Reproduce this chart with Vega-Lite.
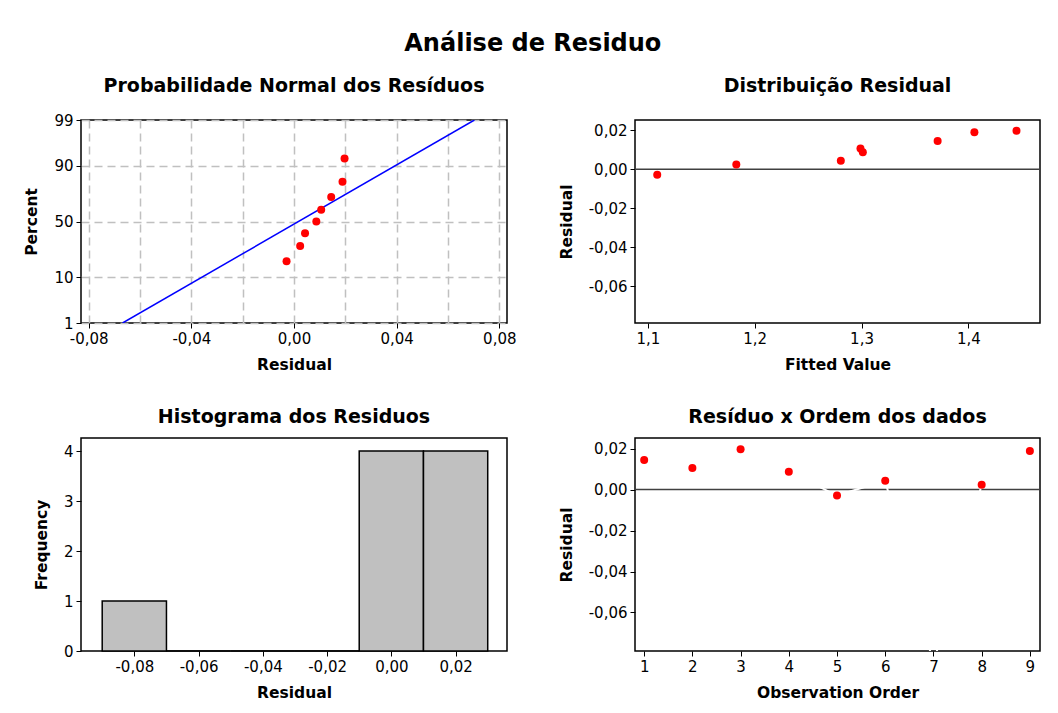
{
  "$schema": "https://vega.github.io/schema/vega-lite/v6.json",
  "background": "white",
  "padding": {"left": 24, "top": 32, "right": 10, "bottom": 5},
  "title": {"text": "Análise de Residuo", "fontSize": 24, "font": "DejaVu Sans", "fontWeight": "bold", "anchor": "middle", "color": "#000000", "offset": 20},
  "datasets": {
    "obs": [
      {"obs": 1, "fitted": 1.3712, "residual": 0.0145, "percent": 71.3},
      {"obs": 2, "fitted": 1.2990, "residual": 0.0106, "percent": 60.6},
      {"obs": 3, "fitted": 1.4450, "residual": 0.0197, "percent": 92.6},
      {"obs": 4, "fitted": 1.3012, "residual": 0.0087, "percent": 50.0},
      {"obs": 5, "fitted": 1.1088, "residual": -0.0029, "percent": 18.1},
      {"obs": 6, "fitted": 1.2806, "residual": 0.0043, "percent": 39.4},
      {"obs": 7, "fitted": 1.2500, "residual": -0.0850, "percent": 7.4},
      {"obs": 8, "fitted": 1.1828, "residual": 0.0024, "percent": 28.7},
      {"obs": 9, "fitted": 1.4056, "residual": 0.0189, "percent": 81.9}
    ],
    "fitline": [
      {"residual": -0.0668, "percent": 1},
      {"residual": 0.0703, "percent": 99}
    ],
    "hist": [
      {"bin_start": -0.09, "bin_end": -0.07, "count": 1},
      {"bin_start": -0.07, "bin_end": -0.05, "count": 0},
      {"bin_start": -0.05, "bin_end": -0.03, "count": 0},
      {"bin_start": -0.03, "bin_end": -0.01, "count": 0},
      {"bin_start": -0.01, "bin_end": 0.01, "count": 4},
      {"bin_start": 0.01, "bin_end": 0.03, "count": 4}
    ]
  },
  "columns": 2,
  "align": "each",
  "spacing": {"row": 33, "column": 41},
  "concat": [
    {
      "width": 426,
      "height": 203,
      "title": {"text": "Probabilidade Normal dos Resíduos", "offset": 17},
      "layer": [
        {
          "data": {"name": "fitline"},
          "transform": [{"calculate": "quantileNormal(datum.percent/100)", "as": "z"}],
          "mark": {"type": "line", "color": "#0000ff", "strokeWidth": 1.5, "clip": true},
          "encoding": {
            "x": {"field": "residual", "type": "quantitative", "scale": {"domain": [-0.083, 0.083], "nice": false, "zero": false},
              "axis": {"title": "Residual", "values": [-0.08, -0.06, -0.04, -0.02, 0, 0.02, 0.04, 0.06, 0.08], "format": ".2f",
                "labelExpr": "round(datum.value*50) % 2 === 0 ? datum.label : ''",
                "tickOpacity": {"condition": {"test": "round(datum.value*50) % 2 === 0", "value": 1}, "value": 0},
                "grid": true, "gridColor": "#c0c0c0", "gridDash": [8, 5], "gridWidth": 1.5}},
            "y": {"field": "z", "type": "quantitative", "scale": {"domain": [-2.3263, 2.3263], "nice": false, "zero": false},
              "axis": {"title": "Percent", "values": [-2.3263, -1.2816, 0, 1.2816, 2.3263],
                "labelExpr": "datum.value < -2 ? '1' : datum.value < -1 ? '10' : datum.value < 1 ? '50' : datum.value < 2 ? '90' : '99'",
                "grid": true, "gridColor": "#c0c0c0", "gridDash": [8, 5], "gridWidth": 1.5}}
          }
        },
        {
          "data": {"name": "obs"},
          "transform": [{"calculate": "quantileNormal(datum.percent/100)", "as": "z"}],
          "mark": {"type": "circle", "color": "#ff0000", "size": 64, "opacity": 1, "clip": true},
          "encoding": {
            "x": {"field": "residual", "type": "quantitative"},
            "y": {"field": "z", "type": "quantitative"}
          }
        }
      ]
    },
    {
      "width": 405,
      "height": 203,
      "title": {"text": "Distribuição Residual", "offset": 24},
      "data": {"name": "obs"},
      "layer": [
        {
          "data": {"values": [{}]},
          "mark": {"type": "rule", "color": "#404040", "strokeWidth": 1.5},
          "encoding": {"y": {"datum": 0, "type": "quantitative"}}
        },
        {
          "mark": {"type": "circle", "color": "#ff0000", "size": 64, "opacity": 1, "clip": true},
          "encoding": {
            "x": {"field": "fitted", "type": "quantitative", "scale": {"domain": [1.088, 1.467], "nice": false, "zero": false},
              "axis": {"title": "Fitted Value", "values": [1.1, 1.2, 1.3, 1.4], "format": ".1f"}},
            "y": {"field": "residual", "type": "quantitative", "scale": {"domain": [-0.0788, 0.0252], "nice": false, "zero": false},
              "axis": {"title": "Residual", "values": [-0.06, -0.04, -0.02, 0, 0.02], "format": ".2f"}}
          }
        }
      ]
    },
    {
      "width": 426,
      "height": 213,
      "title": {"text": "Histograma dos Residuos", "offset": 11},
      "data": {"name": "hist"},
      "mark": {"type": "bar", "fill": "#c0c0c0", "stroke": "#000000", "strokeWidth": 1.5, "opacity": 1},
      "encoding": {
        "x": {"field": "bin_start", "type": "quantitative", "scale": {"domain": [-0.0966, 0.036], "nice": false, "zero": false},
          "axis": {"title": "Residual", "values": [-0.08, -0.06, -0.04, -0.02, 0, 0.02], "format": ".2f"}},
        "x2": {"field": "bin_end"},
        "y": {"field": "count", "type": "quantitative", "scale": {"domain": [0, 4.26], "nice": false},
          "axis": {"title": "Frequency", "values": [0, 1, 2, 3, 4], "format": "d"}},
        "y2": {"datum": 0}
      }
    },
    {
      "width": 405,
      "height": 213,
      "title": {"text": "Resíduo x Ordem dos dados", "offset": 11},
      "data": {"name": "obs"},
      "layer": [
        {
          "data": {"values": [{}]},
          "mark": {"type": "rule", "color": "#404040", "strokeWidth": 1.5},
          "encoding": {"y": {"datum": 0, "type": "quantitative"}}
        },
        {
          "mark": {"type": "line", "color": "#ffffff", "strokeWidth": 2, "clip": true},
          "encoding": {
            "x": {"field": "obs", "type": "quantitative"},
            "y": {"field": "residual", "type": "quantitative"},
            "order": {"field": "obs"}
          }
        },
        {
          "mark": {"type": "circle", "color": "#ff0000", "size": 64, "opacity": 1, "clip": true},
          "encoding": {
            "x": {"field": "obs", "type": "quantitative", "scale": {"domain": [0.81, 9.21], "nice": false, "zero": false},
              "axis": {"title": "Observation Order", "values": [1, 2, 3, 4, 5, 6, 7, 8, 9], "format": "d"}},
            "y": {"field": "residual", "type": "quantitative", "scale": {"domain": [-0.0788, 0.0252], "nice": false, "zero": false},
              "axis": {"title": "Residual", "values": [-0.06, -0.04, -0.02, 0, 0.02], "format": ".2f"}}
          }
        }
      ]
    }
  ],
  "config": {
    "locale": {"number": {"decimal": ",", "thousands": ".", "grouping": [3], "currency": ["", ""], "minus": "-"}},
    "font": "DejaVu Sans",
    "view": {"stroke": "#000000", "strokeWidth": 1.5},
    "axis": {
      "domain": false, "grid": false, "ticks": true, "tickColor": "#000000", "tickSize": 5, "tickWidth": 1,
      "labelFont": "DejaVu Sans", "labelFontSize": 15, "labelColor": "#000000", "labelPadding": 3, "labelFlush": false, "labelOverlap": false,
      "titleFont": "DejaVu Sans", "titleFontSize": 15.5, "titleFontWeight": "bold", "titleColor": "#000000"
    },
    "axisX": {"titlePadding": 11},
    "axisY": {"titlePadding": 14},
    "title": {"font": "DejaVu Sans", "fontSize": 19, "fontWeight": "bold", "color": "#000000", "offset": 20}
  }
}
